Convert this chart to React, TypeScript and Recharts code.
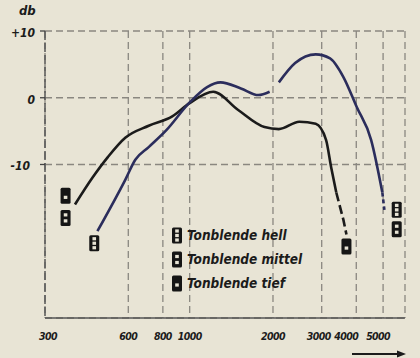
import { ComposedChart, Line, Scatter, XAxis, YAxis, CartesianGrid, Legend } from "recharts"

// frequency response, Tonblende settings (Hz / dB)
const xTicks = [300, 600, 800, 1000, 2000, 3000, 4000, 5000, 6000]
const yTicks = [-10, 0, 10]

// Tonblende tief (black curve)
const tiefFreq = [385, 445, 506, 585, 711, 865, 1000, 1217, 1493, 1864, 2100, 2490, 2855, 3110, 3245, 3387]
const tiefDb = [-16, -12, -8.9, -6, -4.2, -2.8, -0.8, 0.9, -1.8, -4.4, -4.7, -3.6, -3.9, -6.3, -10.4, -14.2]
const tiefTailFreq = [3387, 3594, 3686]
const tiefTailDb = [-14.2, -18.3, -20.5]

// Tonblende hell (blue curve), broken near 2000 Hz
const hellFreqA = [464, 585, 636, 711, 822, 1000, 1156, 1292, 1531, 1771, 1945]
const hellDbA = [-20, -12.3, -9.3, -7.4, -4.9, -0.7, 1.6, 2.3, 1.4, 0.4, 0.9]
const hellFreqB = [2100, 2405, 2855, 3216, 3594, 4015, 4525, 4969]
const hellDbB = [2.3, 5.2, 6.5, 5.9, 3.1, -1.4, -6.3, -14.2]
const hellTailFreq = [4969, 5054]
const hellTailDb = [-14.2, -16.8]

// end markers
const markerFreq = [356, 356, 452, 3686, 5600, 5600]
const markerDb = [-14.7, -18, -21.8, -22.3, -16.8, -19.7]
const markerKind = ["tief", "mittel", "hell", "tief", "hell", "mittel"]

const legendLabels = ["Tonblende hell", "Tonblende mittel", "Tonblende tief"]
const legendKinds = ["hell", "mittel", "tief"]

const toRows = (f: number[], d: number[]) => f.map((v, i) => ({ f: v, db: d[i] }))

const paper = "#e8e4d5"
const ink = "#1b1b1b"
const navy = "#2b2d5c"
const gridColor = "#8a8780"
const font = "'DejaVu Sans Condensed', 'DejaVu Sans', sans-serif"

// hand-lettered labels sit a little off their grid lines
const labelShift: Record<number, number> = { 300: 3, 3000: -3, 4000: -10, 5000: -5 }

function Glyph({ x, y, kind }: { x: number; y: number; kind: string }) {
  const w = 10
  const h = 16
  const holes = kind === "hell" ? [-4.5, 0, 4.5] : kind === "mittel" ? [-3, 3] : [1.5]
  return (
    <g>
      <rect x={x - w / 2} y={y - h / 2} width={w} height={h} rx={1.5} fill="#151515" />
      {holes.map((o, i) => (
        <rect key={i} x={x - 1.8} y={y + o - 1.6} width={3.6} height={3.2} fill={paper} />
      ))}
    </g>
  )
}

const MarkerShape = (props: any) => {
  const { cx, cy, payload } = props
  return <Glyph x={cx} y={cy} kind={payload.kind} />
}

const XTick = (props: any) => {
  const { x, y, payload } = props
  const v = payload.value
  if (v === 6000) return <g />
  return (
    <text
      x={x + (labelShift[v] ?? 0)}
      y={y + 14}
      textAnchor="middle"
      fill={ink}
      fontSize={10.5}
      letterSpacing={-0.6}
      fontStyle="italic"
      fontWeight="bold"
      fontFamily={font}
    >
      {v}
    </text>
  )
}

const YTick = (props: any) => {
  const { x, y, payload } = props
  const v = payload.value
  const label = v > 0 ? `+${v}` : `${v}`
  const endX = v < 0 ? x - 8 : x - 3
  return (
    <text x={endX} y={y + 6} textAnchor="end" fill={ink} fontSize={12} fontStyle="italic" fontWeight="bold" fontFamily={font}>
      {label}
    </text>
  )
}

const renderLegend = () => (
  <div>
    {legendLabels.map((t, i) => (
      <div key={t} style={{ display: "flex", alignItems: "center", height: 24 }}>
        <svg width={12} height={17}>
          <Glyph x={6} y={8.5} kind={legendKinds[i]} />
        </svg>
        <span style={{ marginLeft: 4, fontSize: 13.5, fontStyle: "italic", fontWeight: "bold", fontFamily: font, color: ink }}>
          {t}
        </span>
      </div>
    ))}
  </div>
)

export default function App() {
  const markers = markerFreq.map((f, i) => ({ f, db: markerDb[i], kind: markerKind[i] }))
  return (
    <div style={{ position: "absolute", left: 0, top: 0, width: 420, height: 358, background: paper }}>
      <ComposedChart width={420} height={358} margin={{ top: 31, right: 15, bottom: 10, left: 0 }}>
        <CartesianGrid stroke={gridColor} strokeDasharray="7 4" strokeWidth={1.3} />
        <XAxis
          dataKey="f"
          type="number"
          scale="log"
          domain={[300, 6000]}
          ticks={xTicks}
          interval={0}
          allowDataOverflow
          height={30}
          tickLine={false}
          axisLine={{ stroke: "#555", strokeWidth: 1.5 }}
          tick={<XTick />}
        />
        <YAxis
          type="number"
          domain={[-33, 10]}
          ticks={yTicks}
          allowDataOverflow
          width={45}
          tickSize={5}
          tickLine={{ stroke: "#444", strokeWidth: 1.3 }}
          axisLine={{ stroke: "#555", strokeWidth: 1.5, strokeDasharray: "9 3" }}
          tick={<YTick />}
        />
        <Legend
          layout="vertical"
          align="center"
          verticalAlign="middle"
          content={renderLegend}
          wrapperStyle={{ left: 171, top: 223, width: 160 }}
        />
        <Line data={toRows(tiefFreq, tiefDb)} dataKey="db" type="monotone" stroke={ink} strokeWidth={2.6} dot={false} isAnimationActive={false} />
        <Line data={toRows(tiefTailFreq, tiefTailDb)} dataKey="db" type="linear" stroke={ink} strokeWidth={2.6} strokeDasharray="9 4" dot={false} isAnimationActive={false} />
        <Line data={toRows(hellFreqA, hellDbA)} dataKey="db" type="monotone" stroke={navy} strokeWidth={2.6} dot={false} isAnimationActive={false} />
        <Line data={toRows(hellFreqB, hellDbB)} dataKey="db" type="monotone" stroke={navy} strokeWidth={2.6} dot={false} isAnimationActive={false} />
        <Line data={toRows(hellTailFreq, hellTailDb)} dataKey="db" type="linear" stroke={navy} strokeWidth={2.6} strokeDasharray="4 3" dot={false} isAnimationActive={false} />
        <Scatter data={markers} dataKey="db" shape={MarkerShape} isAnimationActive={false} />
      </ComposedChart>
      <div style={{ position: "absolute", left: 19, top: 3, fontSize: 13, fontStyle: "italic", fontWeight: "bold", fontFamily: font, color: ink }}>
        db
      </div>
      <svg style={{ position: "absolute", left: 0, top: 0 }} width={420} height={358}>
        <line x1={352} y1={354} x2={400} y2={354} stroke={ink} strokeWidth={1.8} />
        <path d="M 397 350.5 L 406 354 L 397 357.5 Z" fill={ink} />
      </svg>
    </div>
  )
}
